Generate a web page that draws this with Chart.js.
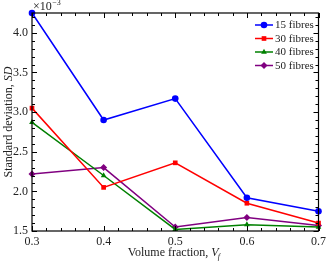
<!DOCTYPE html>
<html>
<head>
<meta charset="utf-8">
<script src="https://cdn.jsdelivr.net/npm/chart.js@4/dist/chart.umd.min.js"></script>
<style>
  html, body { margin: 0; padding: 0; background: #fff; }
  #wrap { width: 330px; height: 262px; }
</style>
</head>
<body>
<div id="wrap"><canvas id="sdChart" width="330" height="262"></canvas></div>
<script>
const volumeFractions = [0.3, 0.4, 0.5, 0.6, 0.7];
const sd15 = [4.25, 2.90, 3.17, 1.92, 1.75];
const sd30 = [3.05, 2.05, 2.36, 1.85, 1.60];
const sd40 = [2.87, 2.20, 1.52, 1.58, 1.55];
const sd50 = [2.22, 2.30, 1.55, 1.67, 1.57];
const seriesNames = ['15 fibres', '30 fibres', '40 fibres', '50 fibres'];
const seriesColors = ['#0000ff', '#ff0000', '#008000', '#800080'];
const seriesMarkers = ['circle', 'rect', 'triangle', 'rectRot'];
const yTicks = [1.5, 2.0, 2.5, 3.0, 3.5, 4.0];

const SERIF = '"Liberation Serif", "DejaVu Serif", serif';

const toPts = vals => vals.map((v, i) => ({ x: volumeFractions[i], y: v }));
const allSeries = [sd15, sd30, sd40, sd50];

const datasets = allSeries.map((vals, i) => ({
  label: seriesNames[i],
  data: toPts(vals),
  borderColor: seriesColors[i],
  backgroundColor: seriesColors[i],
  borderWidth: 1.5,
  pointStyle: seriesMarkers[i],
  pointRadius: seriesMarkers[i] === 'rectRot' ? 3.5 : 3.3,
  pointBorderWidth: 0,
  tension: 0,
  fill: false,
  clip: false
}));

// box, inward ticks, axis titles, exponent and legend
const decorations = {
  id: 'decorations',
  afterDraw(chart) {
    const { ctx, chartArea: a, scales: { x, y } } = chart;
    ctx.save();
    ctx.strokeStyle = '#000';
    ctx.lineWidth = 1;

    const tick = (px, len, horiz) => {
      ctx.beginPath();
      if (horiz) {
        ctx.moveTo(px, a.bottom); ctx.lineTo(px, a.bottom - len);
        ctx.moveTo(px, a.top); ctx.lineTo(px, a.top + len);
      } else {
        ctx.moveTo(a.left, px); ctx.lineTo(a.left + len, px);
        ctx.moveTo(a.right, px); ctx.lineTo(a.right - len, px);
      }
      ctx.stroke();
    };
    for (let k = 0; k <= 20; k++) {
      const v = 0.3 + k * 0.02;
      const px = Math.round(x.getPixelForValue(v)) + 0.5;
      tick(px, k % 5 === 0 ? 5 : 3, true);
    }
    for (let k = 0; k <= 27; k++) {
      const v = 1.5 + k * 0.1;
      const px = Math.round(y.getPixelForValue(v)) + 0.5;
      tick(px, k % 5 === 0 ? 5 : 3, false);
    }

    ctx.lineWidth = 1.2;
    ctx.strokeRect(a.left, a.top, a.right - a.left, a.bottom - a.top);

    // exponent label
    ctx.fillStyle = '#222';
    ctx.textBaseline = 'alphabetic';
    ctx.textAlign = 'left';
    ctx.font = '12px ' + SERIF;
    ctx.fillText('\u00d710', a.left + 1, a.top - 3);
    const w10 = ctx.measureText('\u00d710').width;
    ctx.font = '8px ' + SERIF;
    ctx.fillText('\u22123', a.left + 1 + w10 + 0.5, a.top - 8);

    // x title
    ctx.font = '12px ' + SERIF;
    const xt1 = 'Volume fraction, ';
    ctx.font = 'italic 12px ' + SERIF;
    const wV = ctx.measureText('V').width;
    ctx.font = '12px ' + SERIF;
    const w1 = ctx.measureText(xt1).width;
    const total = w1 + wV + 4;
    let sx = (a.left + a.right) / 2 - total / 2;
    const by = 256;
    ctx.fillText(xt1, sx, by);
    ctx.font = 'italic 12px ' + SERIF;
    ctx.fillText('V', sx + w1, by);
    ctx.font = 'italic 8px ' + SERIF;
    ctx.fillText('f', sx + w1 + wV - 1, by + 3);

    // y title
    ctx.save();
    ctx.translate(12, (a.top + a.bottom) / 2);
    ctx.rotate(-Math.PI / 2);
    ctx.font = '12px ' + SERIF;
    const yt1 = 'Standard deviation, ';
    const wy1 = ctx.measureText(yt1).width;
    ctx.font = 'italic 12px ' + SERIF;
    const wy2 = ctx.measureText('SD').width;
    const sy = -(wy1 + wy2) / 2;
    ctx.font = '12px ' + SERIF;
    ctx.fillText(yt1, sy, 0);
    ctx.font = 'italic 12px ' + SERIF;
    ctx.fillText('SD', sy + wy1, 0);
    ctx.restore();

    // legend
    chart.data.datasets.forEach((ds, i) => {
      const ly = 25 + i * 13.5;
      ctx.strokeStyle = ds.borderColor;
      ctx.lineWidth = 1.5;
      ctx.beginPath();
      ctx.moveTo(255, ly); ctx.lineTo(273, ly);
      ctx.stroke();
      ctx.fillStyle = ds.backgroundColor;
      Chart.helpers.drawPoint(ctx, { pointStyle: ds.pointStyle, radius: ds.pointRadius, borderWidth: 0 }, 264, ly);
      ctx.fillStyle = '#222';
      ctx.font = '11px ' + SERIF;
      ctx.textBaseline = 'middle';
      ctx.fillText(ds.label, 275, ly + 0.5);
      ctx.textBaseline = 'alphabetic';
    });
    ctx.restore();
  }
};

new Chart(document.getElementById('sdChart').getContext('2d'), {
  type: 'line',
  data: { datasets },
  options: {
    responsive: false,
    animation: false,
    devicePixelRatio: 1,
    layout: { padding: { top: 13, right: 7, left: 0, bottom: 0 } },
    plugins: { legend: { display: false }, tooltip: { enabled: false } },
    scales: {
      x: {
        type: 'linear',
        min: 0.3,
        max: 0.7,
        afterFit: s => { s.height = 31; },
        afterBuildTicks: s => { s.ticks = volumeFractions.map(v => ({ value: v })); },
        grid: { display: false, drawTicks: false },
        border: { display: false },
        ticks: {
          padding: 4,
          color: '#222',
          font: { family: SERIF, size: 12 },
          maxRotation: 0,
          callback: v => v.toFixed(1)
        }
      },
      y: {
        type: 'linear',
        min: 1.5,
        max: 4.25,
        afterFit: s => { s.width = 32; },
        afterBuildTicks: s => { s.ticks = yTicks.map(v => ({ value: v })); },
        grid: { display: false, drawTicks: false },
        border: { display: false },
        ticks: {
          padding: 4,
          color: '#222',
          font: { family: SERIF, size: 12 },
          callback: v => v.toFixed(1)
        }
      }
    }
  },
  plugins: [decorations]
});
</script>
</body>
</html>
